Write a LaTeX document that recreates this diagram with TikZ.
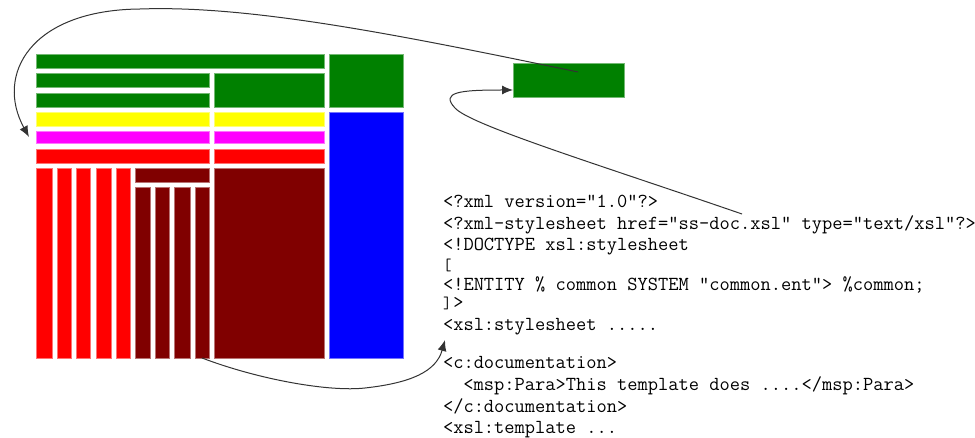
\documentclass[tikz,border=0pt]{standalone}
\usetikzlibrary{arrows.meta}
\definecolor{tmgreen}{HTML}{008000}
\definecolor{tmyellow}{HTML}{FFFF00}
\definecolor{tmmagenta}{HTML}{FF00FF}
\definecolor{tmred}{HTML}{FF0000}
\definecolor{tmmaroon}{HTML}{800000}
\definecolor{tmblue}{HTML}{0000FF}
\definecolor{wire}{HTML}{333333}
\tikzset{
  cell/.style={rectangle, inner sep=0pt, outer sep=0pt, line width=0.7pt},
  code/.style={anchor=base west, inner sep=0pt, outer sep=0pt,
    text height=11pt, text depth=3pt,
    font=\fontsize{19.9}{22}\selectfont\ttfamily},
  link/.style={draw=wire, line width=1pt, -{Latex[length=11pt,width=9pt]}},
}
% \tmcell{name}{colour}{x1}{y1}{x2}{y2}: a treemap cell from top-left to bottom-right
\newcommand\tmcell[6]{\node[cell, fill=#2, draw=#2!55!white,
  minimum width=#5pt-#3pt, minimum height=#6pt-#4pt, anchor=north west] (#1) at (#3,#4) {};}
% a short bracket that still takes one character cell
\newcommand\shortbr[1]{\makebox[10.45pt][l]{\fontsize{16.5}{16.5}\selectfont #1}}
\begin{document}
\begin{tikzpicture}[x=1pt,y=-1pt]
\useasboundingbox (0,0) rectangle (975,438);
% treemap
\tmcell{gTop}{tmgreen}{36}{54}{324}{68}
\tmcell{gRight}{tmgreen}{329}{54}{403}{107}
\tmcell{gA}{tmgreen}{36}{73}{209}{87}
\tmcell{gB}{tmgreen}{36}{93}{209}{107}
\tmcell{gMid}{tmgreen}{214}{73}{324}{107}
\tmcell{yL}{tmyellow}{36}{112}{209}{126}
\tmcell{yR}{tmyellow}{214}{112}{324}{126}
\tmcell{mL}{tmmagenta}{36}{131}{209}{143}
\tmcell{mR}{tmmagenta}{214}{131}{324}{143}
\tmcell{rL}{tmred}{36}{149}{209}{163}
\tmcell{rR}{tmred}{214}{149}{324}{163}
\tmcell{blue}{tmblue}{329}{112}{403}{358}
\tmcell{rv1}{tmred}{36}{168}{52}{358}
\tmcell{rv2}{tmred}{57}{168}{71}{358}
\tmcell{rv3}{tmred}{76}{168}{90}{358}
\tmcell{rv4}{tmred}{96}{168}{111}{358}
\tmcell{rv5}{tmred}{116}{168}{130}{358}
\tmcell{dTop}{tmmaroon}{135}{168}{209}{182}
\tmcell{dv1}{tmmaroon}{135}{187}{150}{358}
\tmcell{dv2}{tmmaroon}{155}{187}{169}{358}
\tmcell{dv3}{tmmaroon}{174}{187}{190}{358}
\tmcell{dv4}{tmmaroon}{195}{187}{209}{358}
\tmcell{dBig}{tmmaroon}{214}{168}{324}{358}
% detached cell
\tmcell{gOut}{tmgreen}{513}{63}{624}{97}
% source text
\node[code] (l1) at (443,208) {<?xml version="1.0"?>};
\node[code] (l2) at (443,230) {<?xml-stylesheet href="ss-doc.xsl" type="text/xsl"?>};
\node[code] (l3) at (443,251) {<!DOCTYPE xsl:stylesheet};
\node[code] (l4) at (443,271) {\shortbr{[}};
\node[code] (l5) at (443,291) {<!ENTITY \% common SYSTEM "common.ent"> \%common;};
\node[code] (l6) at (443,309) {\shortbr{]}>};
\node[code] (l7) at (443,331) {<xsl:stylesheet .....};
\node[code] (l8) at (443,369) {<c:documentation>};
\node[code] (l9) at (463.4,391) {<msp:Para>This template does ....</msp:Para>};
\node[code] (l10) at (443,412) {</c:documentation>};
\node[code] (l11) at (443,433) {<xsl:template ...};
% connector ends
\coordinate (outStart) at (578,72);
\coordinate (outEnd) at (513,90);
\coordinate (textStart) at (742,214);
\coordinate (textEnd) at (445,340);
% arrows
\draw[link] (outStart) .. controls (400,35) and (250,5) .. (140,9)
  .. controls (30,10) and (-5,75) .. ([xshift=-7pt]mL.west);
\draw[link] (textStart) .. controls (600,165) and (470,125) .. (455,108)
  .. controls (440,92) and (460,90) .. (outEnd);
\draw[link] (dv4.south) .. controls (260,380) and (330,392) .. (365,388)
  .. controls (410,383) and (436,372) .. (textEnd);
\end{tikzpicture}
\end{document}
